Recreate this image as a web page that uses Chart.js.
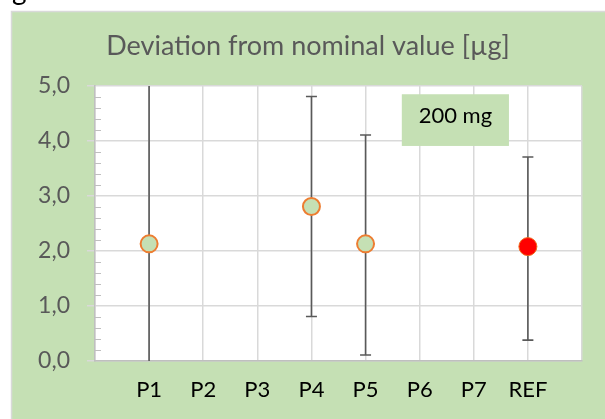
<!DOCTYPE html>
<html>
<head>
<meta charset="utf-8">
<script src="https://cdn.jsdelivr.net/npm/chart.js@4.4.1/dist/chart.umd.min.js"></script>
<style>
html, body { margin: 0; padding: 0; background: #fff; overflow: hidden; }
#wrap { position: relative; width: 605px; height: 419px; }
canvas { position: absolute; left: 0; top: 0; }
#cut { position: absolute; left: 12px; top: -25px; font: 28px Lato, sans-serif; line-height: 1; color: #000; }
</style>
</head>
<body>
<div id="wrap">
  <canvas id="deviationChart" width="605" height="419"></canvas>
  <div id="cut">g</div>
</div>
<script>
'use strict';

var categories   = ['P1', 'P2', 'P3', 'P4', 'P5', 'P6', 'P7', 'REF'];
var yTickLabels  = ['0,0', '1,0', '2,0', '3,0', '4,0', '5,0'];

// samples (green points)
var sampleCats   = ['P1', 'P4', 'P5'];
var sampleValues = [2.13, 2.81, 2.13];
var sampleLow    = [-1.9, 0.81, 0.11];
var sampleHigh   = [6.1, 4.81, 4.11];

// reference (red point)
var refCats      = ['REF'];
var refValues    = [2.08];
var refLow       = [0.38];
var refHigh      = [3.71];

var boxLabel = '200 mg';

var green  = '#c5e0b4';
var orange = '#ed7d31';
var grey   = '#595959';
var gridC  = '#d9d9d9';
var axisC  = '#bfbfbf';

function toPoints(cats, vals) {
    return cats.map(function (c, i) {
        return { x: categories.indexOf(c) + 1, y: vals[i] };
    });
}

var background = {
    id: 'background',
    beforeDraw: function (chart) {
        var ctx = chart.ctx, a = chart.chartArea;
        ctx.save();
        ctx.fillStyle = green;
        ctx.fillRect(11, 11, chart.width - 11, chart.height - 11);
        ctx.strokeStyle = gridC;
        ctx.lineWidth = 1.5;
        ctx.beginPath();
        ctx.moveTo(11.5, chart.height);
        ctx.lineTo(11.5, 11.5);
        ctx.lineTo(chart.width, 11.5);
        ctx.stroke();
        ctx.fillStyle = '#fff';
        ctx.fillRect(a.left, a.top, a.right - a.left, a.bottom - a.top);
        ctx.restore();
    }
};

var minorTicks = {
    id: 'minorTicks',
    afterDraw: function (chart) {
        var ctx = chart.ctx, ys = chart.scales.y, a = chart.chartArea;
        ctx.save();
        ctx.strokeStyle = axisC;
        ctx.lineWidth = 1;
        for (var k = 1; k < 25; k++) {
            if (k % 5 === 0) continue;
            var y = Math.round(ys.getPixelForValue(k / 5)) + 0.5;
            ctx.beginPath();
            ctx.moveTo(a.left, y);
            ctx.lineTo(a.left + 6, y);
            ctx.stroke();
        }
        ctx.restore();
    }
};

var errorBars = {
    id: 'errorBars',
    beforeDatasetsDraw: function (chart) {
        var ctx = chart.ctx, xs = chart.scales.x, ys = chart.scales.y, a = chart.chartArea;
        ctx.save();
        ctx.beginPath();
        ctx.rect(a.left, a.top, a.right - a.left, a.bottom - a.top);
        ctx.clip();
        ctx.strokeStyle = grey;
        ctx.lineWidth = 1.6;
        chart.data.datasets.forEach(function (ds) {
            ds.data.forEach(function (p, i) {
                var x = xs.getPixelForValue(p.x);
                var lo = ys.getPixelForValue(ds.errLow[i]);
                var hi = ys.getPixelForValue(ds.errHigh[i]);
                ctx.beginPath();
                ctx.moveTo(x, lo); ctx.lineTo(x, hi);
                ctx.moveTo(x - 5.5, lo); ctx.lineTo(x + 5.5, lo);
                ctx.moveTo(x - 5.5, hi); ctx.lineTo(x + 5.5, hi);
                ctx.stroke();
            });
        });
        ctx.restore();
    }
};

var textBox = {
    id: 'textBox',
    afterDatasetsDraw: function (chart, args, opts) {
        var ctx = chart.ctx, xs = chart.scales.x, ys = chart.scales.y;
        var l = xs.getPixelForValue(opts.x0), r = xs.getPixelForValue(opts.x1);
        var t = ys.getPixelForValue(opts.y1), b = ys.getPixelForValue(opts.y0);
        ctx.save();
        ctx.fillStyle = green;
        ctx.fillRect(l, t, r - l, b - t);
        ctx.fillStyle = '#000';
        ctx.font = '22px Lato, sans-serif';
        ctx.textAlign = 'center';
        ctx.textBaseline = 'middle';
        ctx.fillText(opts.text, (l + r) / 2, (t + b) / 2 - 4);
        ctx.restore();
    }
};

new Chart(document.getElementById('deviationChart'), {
    type: 'scatter',
    data: {
        datasets: [
            {
                label: 'Samples',
                data: toPoints(sampleCats, sampleValues),
                errLow: sampleLow,
                errHigh: sampleHigh,
                pointRadius: 8.5,
                pointBackgroundColor: green,
                pointBorderColor: orange,
                pointBorderWidth: 2
            },
            {
                label: 'Reference',
                data: toPoints(refCats, refValues),
                errLow: refLow,
                errHigh: refHigh,
                pointRadius: 9,
                pointBackgroundColor: '#ff0000',
                pointBorderColor: '#f06a1c',
                pointBorderWidth: 1
            }
        ]
    },
    options: {
        responsive: false,
        animation: false,
        // left padding also balances the right one so the title centres on the green panel
        layout: { padding: { left: 34, right: 23, top: 0, bottom: 0 } },
        plugins: {
            legend: { display: false },
            tooltip: { enabled: false },
            title: {
                display: true,
                text: 'Deviation from nominal value [µg]',
                color: grey,
                font: { family: 'Lato', size: 27, weight: 'normal', lineHeight: 1.2 },
                padding: { top: 30, bottom: 23.6 }
            },
            textBox: { text: boxLabel, x0: 5.67, x1: 7.65, y0: 3.91, y1: 4.85 }
        },
        scales: {
            x: {
                type: 'linear',
                min: 0,
                max: 9,
                ticks: {
                    stepSize: 1,
                    color: '#000',
                    font: { family: 'Lato', size: 22 },
                    padding: 16,
                    callback: function (v) { return categories[v - 1] || ''; }
                },
                grid: { color: gridC, lineWidth: 1.5, drawTicks: false },
                border: { color: axisC, width: 1.5 },
                afterFit: function (s) { s.height = 58; }
            },
            y: {
                min: 0,
                max: 5,
                ticks: {
                    stepSize: 1,
                    color: grey,
                    font: { family: 'Lato', size: 23 },
                    padding: 17,
                    callback: function (v, i) { return yTickLabels[i]; }
                },
                grid: { color: gridC, lineWidth: 1.5, tickLength: 8 },
                border: { color: axisC, width: 1.5 },
                afterFit: function (s) { s.width = 61; }
            }
        }
    },
    plugins: [background, minorTicks, errorBars, textBox]
});
</script>
</body>
</html>
